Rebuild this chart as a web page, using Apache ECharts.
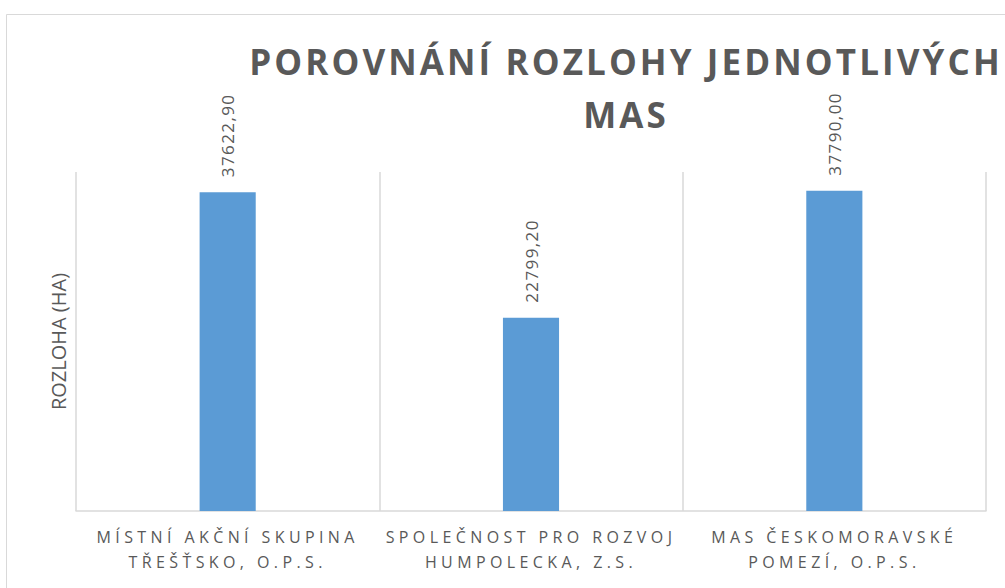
<!DOCTYPE html>
<html>
<head>
<meta charset="utf-8">
<script src="https://cdn.jsdelivr.net/npm/echarts@6/dist/echarts.min.js"></script>
<style>
  html, body { margin: 0; padding: 0; background: #fff; }
  #chart { width: 1005px; height: 588px; }
</style>
</head>
<body>
<div id="chart"></div>
<script>
// data
var categories = [
  'MÍSTNÍ AKČNÍ SKUPINA\nTŘEŠŤSKO, O.P.S.',
  'SPOLEČNOST PRO ROZVOJ\nHUMPOLECKA, Z.S.',
  'MAS ČESKOMORAVSKÉ\nPOMEZÍ, O.P.S.'
];
var rozloha = [37622.90, 22799.20, 37790.00];

// letter spacing (px) per font size, the original uses spaced caps
var spacing = { '35px': 3.1, '16px': 4.4, '17px': 1.4 };

var chart = echarts.init(document.getElementById('chart'), null, { renderer: 'svg' });

chart.setOption({
  animation: false,
  title: {
    text: 'POROVNÁNÍ ROZLOHY JEDNOTLIVÝCH\nMAS',
    left: 621,
    top: 30,
    textAlign: 'center',
    textStyle: {
      fontFamily: 'Open Sans',
      fontWeight: 'bold',
      fontSize: 35,
      color: '#595959',
      lineHeight: 53
    }
  },
  graphic: [{
    type: 'rect',
    shape: { x: 6.5, y: 14.5, width: 1200, height: 700 },
    style: { fill: 'none', stroke: '#d9d9d9', lineWidth: 1 },
    silent: true
  }],
  grid: {
    left: 76,
    right: 19,
    top: 172,
    bottom: 77
  },
  xAxis: {
    type: 'category',
    data: categories,
    axisLine: { lineStyle: { color: '#d9d9d9', width: 1.5 } },
    axisTick: { show: false },
    splitLine: { show: true, lineStyle: { color: '#d9d9d9', width: 1.5 } },
    axisLabel: {
      interval: 0,
      margin: 13,
      fontFamily: 'Open Sans',
      fontSize: 16,
      lineHeight: 25,
      color: '#595959'
    }
  },
  yAxis: {
    type: 'value',
    min: 0,
    max: 40000,
    name: 'ROZLOHA (HA)',
    nameLocation: 'middle',
    nameGap: 8,
    nameTextStyle: {
      fontFamily: 'Open Sans',
      fontSize: 20,
      color: '#595959'
    },
    axisLine: { show: false },
    axisTick: { show: false },
    axisLabel: { show: false },
    splitLine: { show: false }
  },
  series: [{
    type: 'bar',
    data: rozloha,
    barWidth: '18.5%',
    itemStyle: { color: '#5b9bd5' },
    label: {
      show: true,
      position: 'top',
      rotate: 90,
      align: 'left',
      verticalAlign: 'middle',
      distance: 15,
      fontFamily: 'Open Sans',
      fontSize: 17,
      color: '#595959',
      formatter: function (p) {
        return p.value.toFixed(2).replace('.', ',');
      }
    }
  }]
});

// echarts has no letterSpacing, set it on the svg text afterwards
document.querySelectorAll('#chart svg text').forEach(function (el) {
  var s = spacing[getComputedStyle(el).fontSize];
  if (s) el.style.letterSpacing = s + 'px';
});
</script>
</body>
</html>
